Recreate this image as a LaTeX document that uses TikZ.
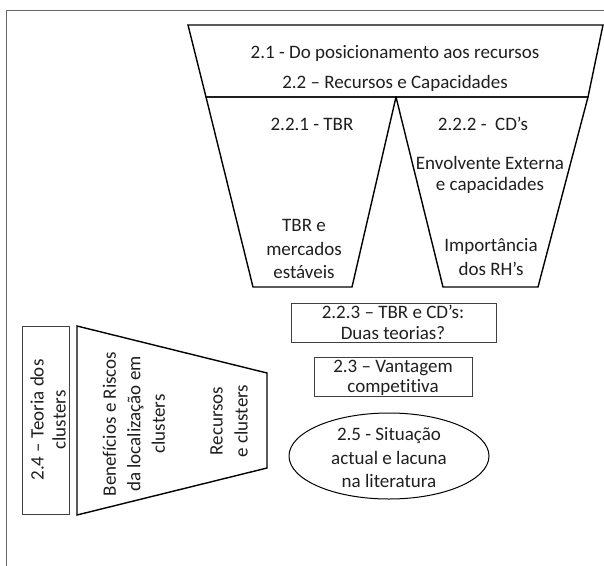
\documentclass[tikz,border=0pt]{standalone}
\usepackage{fontspec}
\setmainfont{Carlito}[Ligatures=NoCommon]
\usetikzlibrary{shapes.geometric}
\begin{document}
\begin{tikzpicture}[x=1pt,y=-1pt,
  shape line/.style={draw=black,line width=1.4pt,line join=miter},
  box line/.style={draw=black!75,line width=0.8pt},
  frame line/.style={draw=black!60,line width=1pt},
  label/.style={inner sep=0pt,align=center,text=black!88,font=\fontsize{19}{23.5}\selectfont},
  tight/.style={font=\fontsize{19}{21}\selectfont}]
\useasboundingbox (0,0) rectangle (604,565);
% outer frame (open to the right and bottom)
\draw[frame line] (6,570) -- (6,10) -- (610,10);

% upper funnel: heading band and two branches
\coordinate (tl) at (188,25);
\coordinate (tr) at (603,25);
\coordinate (ml) at (206,97);
\coordinate (mm) at (396,97);
\coordinate (mr) at (588,97);
\draw[shape line] (tl) -- (tr) -- (mr) -- (ml) -- cycle;
\draw[shape line] (ml) -- (mm) -- (352,287) -- (253,287) -- cycle;
\draw[shape line] (mm) -- (mr) -- (538,287) -- (443,287) -- cycle;

\node[label] (t21) at (395,53) {2.1 - Do posicionamento aos recursos};
\node[label] (t22) at (395,83) {2.2 – Recursos e Capacidades};
\node[label] (t221) at (312,124) {2.2.1 - TBR};
\node[label] (tbr) at (304,249) {TBR e\\mercados\\estáveis};
\node[label] (t222) at (483,124) {2.2.2 -\ \ CD’s};
\node[label,tight] (env) at (490,175) {Envolvente Externa\\e capacidades};
\node[label] (rh) at (491,257) {Importância\\dos RH’s};

% central boxes
\node[box line,minimum width=205pt,minimum height=39pt,inner sep=0pt] (b223) at (393.5,322.5) {};
\node[label,tight] (t223) at (393,322) {2.2.3 – TBR e CD’s:\\Duas teorias?};
\node[box line,minimum width=158pt,minimum height=39pt,inner sep=0pt] (b23) at (393,376.5) {};
\node[label,font=\fontsize{19}{20.5}\selectfont] (t23) at (393,378) {2.3 – Vantagem\\competitiva};
\node[draw=black,line width=1pt,ellipse,minimum width=200pt,minimum height=86pt,inner sep=0pt] (e25) at (389,456) {};
\node[label] (t25) at (389,458) {2.5 - Situação\\actual e lacuna\\na literatura};

% clusters: side box and lying trapezoid
\node[box line,minimum width=47pt,minimum height=188pt,inner sep=0pt] (b24) at (45.5,420) {};
\node[label,rotate=90,font=\fontsize{19}{22}\selectfont] (t24) at (48,420) {2.4 – Teoria dos\\clusters};
\draw[shape line] (77,326) -- (267,373) -- (267,468) -- (77,515) -- cycle;
\node[label,rotate=90,font=\fontsize{19}{24.5}\selectfont] (ben) at (134,424) {Benefícios e Riscos\\da localização em\\clusters};
\node[label,rotate=90,font=\fontsize{19}{25}\selectfont] (rec) at (229,421) {Recursos\\e clusters};
\end{tikzpicture}
\end{document}
